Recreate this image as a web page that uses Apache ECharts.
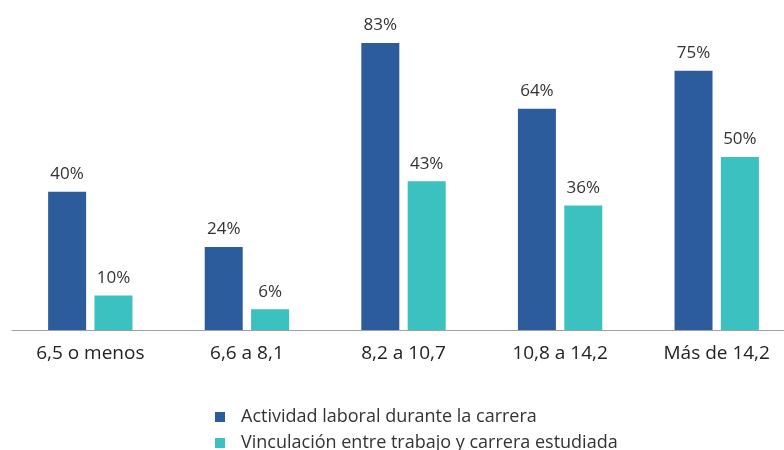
<!DOCTYPE html>
<html>
<head>
<meta charset="utf-8">
<script src="https://cdn.jsdelivr.net/npm/echarts@6/dist/echarts.min.js"></script>
<style>
html, body { margin: 0; padding: 0; background: #fff; }
#main { width: 784px; height: 450px; }
</style>
</head>
<body>
<div id="main"></div>
<script>
var categories = ['6,5 o menos', '6,6 a 8,1', '8,2 a 10,7', '10,8 a 14,2', 'Más de 14,2'];
var actividad = [40, 24, 83, 64, 75];
var vinculacion = [10, 6, 43, 36, 50];
var seriesNames = ['Actividad laboral durante la carrera', 'Vinculación entre trabajo y carrera estudiada'];

var myChart = echarts.init(document.getElementById('main'));

var labelStyle = {
	show : true,
	position : 'top',
	formatter : '{c}%',
	color : '#333',
	fontSize : 17,
	fontFamily : 'Open Sans',
	distance : 9
};

// 图例：两行，各用一个legend
function makeLegend(name, top) {
	return {
		orient : 'horizontal',
		left : 215,
		top : top,
		padding : 0,
		itemWidth : 10,
		itemHeight : 10,
		icon : 'rect',
		textStyle : {
			color : '#333',
			fontSize : 18,
			fontFamily : 'Open Sans',
			padding : [0, 0, 0, 11]
		},
		data : [name]
	};
}

var option = {
	color : [ '#2D5C9D', '#3CC1C1' ],
	textStyle : { fontFamily : 'Open Sans' },
	legend : [
		makeLegend(seriesNames[0], 408),
		makeLegend(seriesNames[1], 434)
	],
	grid : {
		left : 12,
		width : 783,
		top : 43,
		bottom : 120,
		containLabel : false,
		outerBoundsMode : 'none'
	},
	xAxis : {
		type : 'category',
		data : categories,
		axisTick : { show : false },
		axisLine : {
			lineStyle : { color : '#a0a0a0', width : 1 }
		},
		axisLabel : {
			color : '#222',
			fontSize : 19,
			margin : 14
		}
	},
	yAxis : {
		type : 'value',
		min : 0,
		max : 83,
		show : false,
		splitLine : { show : false }
	},
	series : [
		{
			name : seriesNames[0],
			type : 'bar',
			data : actividad,
			barWidth : 38,
			barGap : '22%',
			label : labelStyle
		},
		{
			name : seriesNames[1],
			type : 'bar',
			data : vinculacion,
			barWidth : 38,
			label : labelStyle
		}
	]
};
myChart.setOption(option);
</script>
</body>
</html>
